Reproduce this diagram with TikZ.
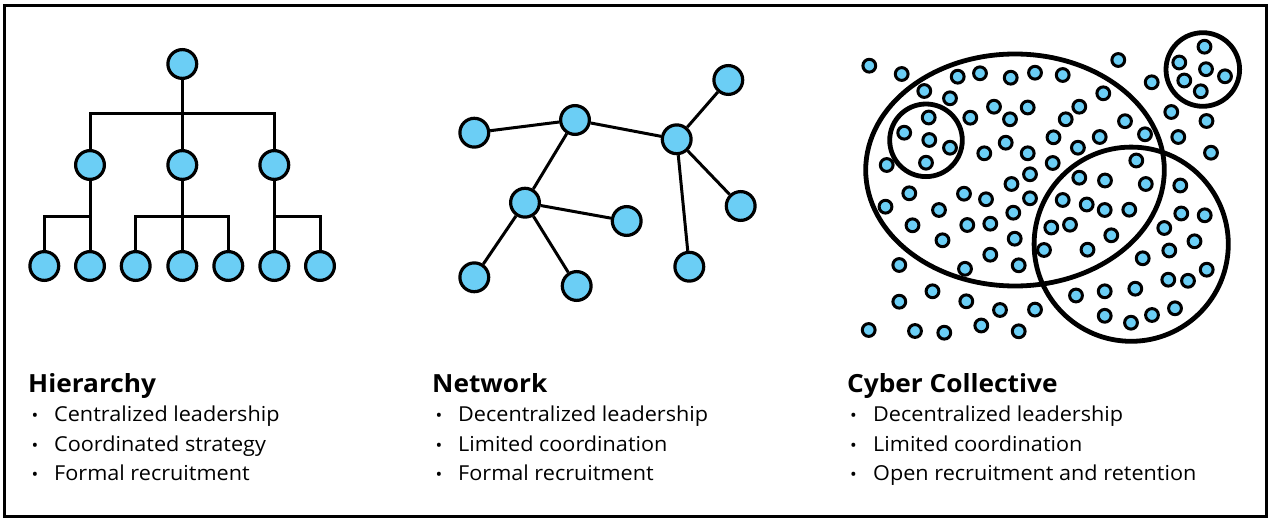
\documentclass[tikz,border=0pt]{standalone}
\usepackage{fontspec}
\setmainfont{Open Sans}[FakeStretch=1.05]
\definecolor{nodeblue}{RGB}{107,206,245}
\begin{document}
\begin{tikzpicture}[x=1pt,y=-1pt,
  big/.style={circle, draw=black, fill=nodeblue, line width=3.2pt, minimum size=28.8pt, inner sep=0pt},
  dot/.style={circle, draw=black, fill=nodeblue, line width=3pt, minimum size=12.8pt, inner sep=0pt},
  conn/.style={line width=3pt, draw=black},
  ring/.style={line width=4.8pt, draw=black},
  frame/.style={line width=3pt, draw=black},
  ttl/.style={anchor=base west, inner sep=0pt, font=\bfseries\fontsize{25}{25}\selectfont},
  itm/.style={anchor=base west, inner sep=0pt, font=\fontsize{20.6}{20.6}\selectfont},
  bul/.style={anchor=base west, inner sep=0pt, font=\fontsize{17}{17}\selectfont}]
\useasboundingbox (0,0) rectangle (1277,524);
\draw[frame] (4.5,6) rectangle (1266.5,516.5);

% ---------- Hierarchy ----------
\node[big] (t) at (182.3,64) {};
\node[big] (m1) at (90,165) {};
\node[big] (m2) at (182.3,165) {};
\node[big] (m3) at (274.3,165) {};
\node[big] (l1) at (44.3,266) {};
\node[big] (l2) at (90,266) {};
\node[big] (l3) at (135.7,266) {};
\node[big] (l4) at (182.3,266) {};
\node[big] (l5) at (228.3,266) {};
\node[big] (l6) at (274.3,266) {};
\node[big] (l7) at (320,266) {};
\coordinate (b1) at (182.3,113.5);
\coordinate (b2) at (182.3,216.5);
\draw[conn] (t) -- (m2);
\draw[conn] (m1) -- (m1 |- b1) -- (m3 |- b1) -- (m3);
\draw[conn] (m1) -- (l2);
\draw[conn] (l1) -- (l1 |- b2) -- (m1 |- b2);
\draw[conn] (m2) -- (l4);
\draw[conn] (l3) -- (l3 |- b2) -- (l5 |- b2) -- (l5);
\draw[conn] (m3) -- (l6);
\draw[conn] (l7) -- (l7 |- b2) -- (m3 |- b2);

% ---------- Network ----------
\node[big] (na) at (474.3,132.7) {};
\node[big] (nb) at (575,120) {};
\node[big] (nc) at (676.7,139.3) {};
\node[big] (nd) at (728.3,80) {};
\node[big] (ne) at (740.7,206) {};
\node[big] (nf) at (689.3,266.7) {};
\node[big] (ng) at (525,202.7) {};
\node[big] (nh) at (626.7,221) {};
\node[big] (ni) at (474.3,277.3) {};
\node[big] (nj) at (576.7,286) {};
\draw[conn] (na) -- (nb);
\draw[conn] (nb) -- (nc);
\draw[conn] (nc) -- (nd);
\draw[conn] (nc) -- (ne);
\draw[conn] (nc) -- (nf);
\draw[conn] (nb) -- (ng);
\draw[conn] (ng) -- (nh);
\draw[conn] (ng) -- (ni);
\draw[conn] (ng) -- (nj);

% ---------- Cyber collective ----------
\draw[ring] (1015,170) ellipse [x radius=149.3, y radius=116];
\draw[ring] (1131.2,244.2) circle [radius=97.1];
\draw[ring] (926,140.3) circle [radius=36.3];
\draw[ring] (1202.8,69.5) circle [radius=36.8];
\foreach \px/\py [count=\i] in {
869.3/65.7, 901.7/74, 957.7/76.7, 980/73.3, 1010.7/77.7, 1035/72.7, 1062.7/75, 1118.3/60,
924.3/91, 950/98.3, 1103.3/93.3, 1151.7/82.3,
1204.5/46.7, 1179.3/62.5, 1206/69.2, 1225/76.3, 1184.3/80.5, 1200.8/91.3,
994/106.7, 1027.7/107.5, 1010/119.3, 970.3/117.7, 1079.3/106.7, 1065.7/119.3, 1125/121.2, 1171.3/112, 1206.5/121,
928.7/117.5, 904.2/132.7, 929.3/140, 950/147.7, 926/162.7,
886.7/165, 1005.7/142.7, 984.3/153.3, 1027.7/153.3, 1053.5/137.3, 1077.9/147.7, 1099.7/137, 1145/134.3, 1178.3/137, 1211/152.7,
1052.7/163, 1030/174.3, 1011.5/184, 1136.3/160.5, 1079.3/177.7, 1105/180.5, 1145.8/184, 1180.3/185.5,
909.3/193.3, 964/193.7, 986/199.3, 1030/198.3, 885.5/206.7, 939/210, 1013.3/212.7,
1062.7/200, 1086.7/204.5, 1104.7/210, 1129.3/209.7, 1181.3/213.5, 1204.7/215.3,
912.5/225.3, 967.3/225, 990.3/223.7, 1051.3/227.5, 1070/224.7, 1164.3/228,
942.5/240.3, 1014.7/238.7, 1111.3/235.3, 1194.5/241.3, 1044/250, 1087.5/249.7, 1169.3/250.5,
990.3/254.7, 899.3/265, 965/268.8, 1018.7/265.3, 1142.7/258.3, 1206.7/269.7, 1168.3/279.7, 1188/280.8,
932.5/291.3, 1076/295.5, 1104.7/291.3, 1135.3/288.7,
899.3/301.7, 966.3/301.3, 1000/310, 1035/309.6, 1104.7/315.8, 1131/322.7, 1152/315, 1175/308.3,
868.7/330, 915/331, 944.3/332.7, 981.3/325.5, 1018.7/331.3}
  \node[dot] (d\i) at (\px,\py) {};

% ---------- Texts ----------
\node[ttl] (ht) at (28,392) {Hierarchy};
\node[bul] (hb1) at (31.3,421.7) {•};
\node[bul] (hb2) at (31.3,451) {•};
\node[bul] (hb3) at (31.3,480.3) {•};
\node[itm] (h1) at (54,421.7) {Centralized leadership};
\node[itm] (h2) at (54,451) {Coordinated strategy};
\node[itm] (h3) at (54,480.3) {Formal recruitment};

\node[ttl] (nt) at (432,392) {Network};
\node[bul] (nb1) at (435.3,421.7) {•};
\node[bul] (nb2) at (435.3,451) {•};
\node[bul] (nb3) at (435.3,480.3) {•};
\node[itm] (n1) at (458,421.7) {Decentralized leadership};
\node[itm] (n2) at (458,451) {Limited coordination};
\node[itm] (n3) at (458,480.3) {Formal recruitment};

\node[ttl] (ct) at (847,392) {Cyber Collective};
\node[bul] (cb1) at (849.8,421.7) {•};
\node[bul] (cb2) at (849.8,451) {•};
\node[bul] (cb3) at (849.8,480.3) {•};
\node[itm] (c1) at (873,421.7) {Decentralized leadership};
\node[itm] (c2) at (873,451) {Limited coordination};
\node[itm] (c3) at (873,480.3) {Open recruitment and retention};
\end{tikzpicture}
\end{document}
